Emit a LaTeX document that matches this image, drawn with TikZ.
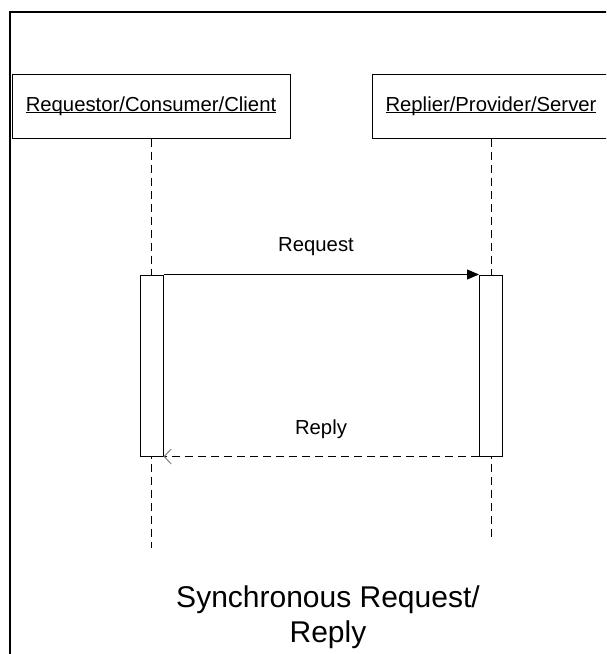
\documentclass[tikz,border=0pt]{standalone}
\usepackage{fontspec}
\setmainfont{Liberation Sans}
\usetikzlibrary{arrows.meta}

\tikzset{
  lifebox/.style={draw, line width=1pt, minimum width=#1, minimum height=64pt,
    inner sep=0pt, font=\fontsize{20.3}{23}\selectfont},
  actbar/.style={draw, fill=white, line width=1pt, minimum width=23pt,
    minimum height=181pt, inner sep=0pt},
  lifeline/.style={dash pattern=on 8pt off 5pt, line width=1pt},
  msgtext/.style={font=\fontsize{20.3}{23}\selectfont}
}
\newcommand{\headname}[1]{\setbox0\hbox{#1}\rlap{\rule[-2pt]{\wd0}{1pt}}\box0}

\begin{document}
\begin{tikzpicture}[x=1pt, y=-1pt]
      \useasboundingbox (0, 0) rectangle (606, 654);
      \clip (0, 0) rectangle (606, 654);
      \draw[line width=2.4pt] (10, 12) rectangle (640, 700);
      % lifeline heads
      \node[lifebox=278pt] (client) at (151, 106) {\headname{Requestor/Consumer/Client}};
      \node[lifebox=238pt] (server) at (491, 106) {\headname{Replier/Provider/Server}};
      \coordinate (clientend) at (151, 548);
      \coordinate (serverend) at (491, 541);
      \draw[lifeline] (client.south) -- (clientend);
      \draw[lifeline] (server.south) -- (serverend);
      % activations
      \node[actbar] (clientbar) at (151.5, 365.5) {};
      \node[actbar] (serverbar) at (491, 365.5) {};
      % messages
      \draw[line width=1pt, -{Triangle[length=12pt, width=10pt]}] (clientbar.north east) -- (serverbar.north west);
      \node[msgtext] (request) at (316, 247) {Request};
      \draw[lifeline, -{Straight Barb[length=7pt, width=15pt, color=gray, line width=1pt]}] (serverbar.south west) -- (clientbar.south east);
      \node[msgtext] (reply) at (321, 429) {Reply};
      \node[align=center, font=\fontsize{30}{35}\selectfont] (title) at (328, 617) {Synchronous Request/\\Reply};
    \end{tikzpicture}
\end{document}
